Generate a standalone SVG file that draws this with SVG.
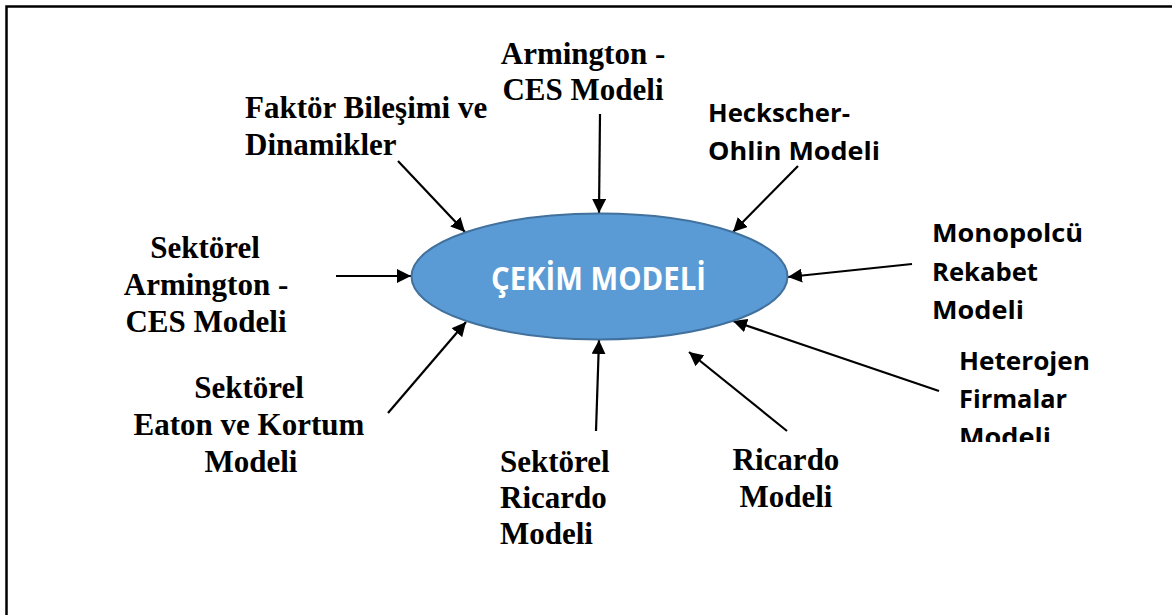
<svg xmlns="http://www.w3.org/2000/svg" width="1172" height="615" viewBox="0 0 1172 615">
<style>
.serif{font-family:"Liberation Serif","Times New Roman",serif;font-weight:bold;font-size:31px;fill:#000}
.sans{font-family:"Open Sans","Liberation Sans",sans-serif;font-weight:bold;font-size:24.5px;fill:#000}
.center{font-family:"Open Sans","Liberation Sans",sans-serif;font-weight:bold;font-size:32px;fill:#fff}
.conn{stroke:#000;stroke-width:2.2;fill:none}
</style>
<defs>
<marker id="ah" markerUnits="userSpaceOnUse" markerWidth="14" markerHeight="14" refX="14" refY="7" orient="auto">
<path d="M0,0 L14,7 L0,14 z" fill="#000"/>
</marker>
<clipPath id="clipH"><rect x="900" y="330" width="272" height="112"/></clipPath>
</defs>
<rect width="1172" height="615" fill="#fff"/>
<g id="frame">
<path d="M6.5,615 L6.5,6.5 L1172,6.5" stroke="#000" stroke-width="2.5" fill="none"/>
</g>
<g id="connectors">
<line class="conn" x1="398" y1="161" x2="465" y2="232" marker-end="url(#ah)"/>
<line class="conn" x1="600" y1="114" x2="599" y2="213" marker-end="url(#ah)"/>
<line class="conn" x1="798" y1="166" x2="733" y2="232" marker-end="url(#ah)"/>
<line class="conn" x1="912" y1="264" x2="788" y2="277" marker-end="url(#ah)"/>
<line class="conn" x1="939" y1="391" x2="733" y2="321" marker-end="url(#ah)"/>
<line class="conn" x1="787" y1="431" x2="689" y2="352" marker-end="url(#ah)"/>
<line class="conn" x1="596" y1="431" x2="599" y2="340" marker-end="url(#ah)"/>
<line class="conn" x1="388" y1="413" x2="466" y2="322" marker-end="url(#ah)"/>
<line class="conn" x1="336" y1="276" x2="411" y2="276" marker-end="url(#ah)"/>
</g>
<g id="cekim">
<ellipse cx="599.5" cy="276.5" rx="188" ry="63" fill="#5B9BD5" stroke="#41719C" stroke-width="2"/>
<text class="center" x="491" y="290" textLength="215" lengthAdjust="spacingAndGlyphs">ÇEKİM MODELİ</text>
</g>
<g id="armington-ces">
<text class="serif" x="583" y="64" text-anchor="middle">Armington -</text>
<text class="serif" x="583" y="100" text-anchor="middle">CES Modeli</text>
</g>
<g id="faktor">
<text class="serif" x="245" y="118">Faktör Bileşimi ve</text>
<text class="serif" x="245" y="155">Dinamikler</text>
</g>
<g id="heckscher">
<text class="sans" x="708" y="122" textLength="142" lengthAdjust="spacingAndGlyphs">Heckscher-</text>
<text class="sans" x="708" y="160" textLength="172" lengthAdjust="spacingAndGlyphs">Ohlin Modeli</text>
</g>
<g id="monopolcu">
<text class="sans" x="932" y="242" textLength="151" lengthAdjust="spacingAndGlyphs">Monopolcü</text>
<text class="sans" x="932" y="281" textLength="106" lengthAdjust="spacingAndGlyphs">Rekabet</text>
<text class="sans" x="932" y="319" textLength="92" lengthAdjust="spacingAndGlyphs">Modeli</text>
</g>
<g id="heterojen">
<text class="sans" x="959" y="370" textLength="131" lengthAdjust="spacingAndGlyphs">Heterojen</text>
<text class="sans" x="959" y="408" textLength="108" lengthAdjust="spacingAndGlyphs">Firmalar</text>
<text class="sans" x="959" y="446" textLength="92" lengthAdjust="spacingAndGlyphs" clip-path="url(#clipH)">Modeli</text>
</g>
<g id="sektorel-armington">
<text class="serif" x="205" y="258" text-anchor="middle">Sektörel</text>
<text class="serif" x="206" y="295" text-anchor="middle">Armington -</text>
<text class="serif" x="206" y="332" text-anchor="middle">CES Modeli</text>
</g>
<g id="sektorel-eaton">
<text class="serif" x="249" y="398" text-anchor="middle">Sektörel</text>
<text class="serif" x="249" y="435" text-anchor="middle">Eaton ve Kortum</text>
<text class="serif" x="251" y="472" text-anchor="middle">Modeli</text>
</g>
<g id="sektorel-ricardo">
<text class="serif" x="500" y="472">Sektörel</text>
<text class="serif" x="500" y="508">Ricardo</text>
<text class="serif" x="500" y="544">Modeli</text>
</g>
<g id="ricardo">
<text class="serif" x="786" y="470" text-anchor="middle">Ricardo</text>
<text class="serif" x="786" y="507" text-anchor="middle">Modeli</text>
</g>
</svg>
